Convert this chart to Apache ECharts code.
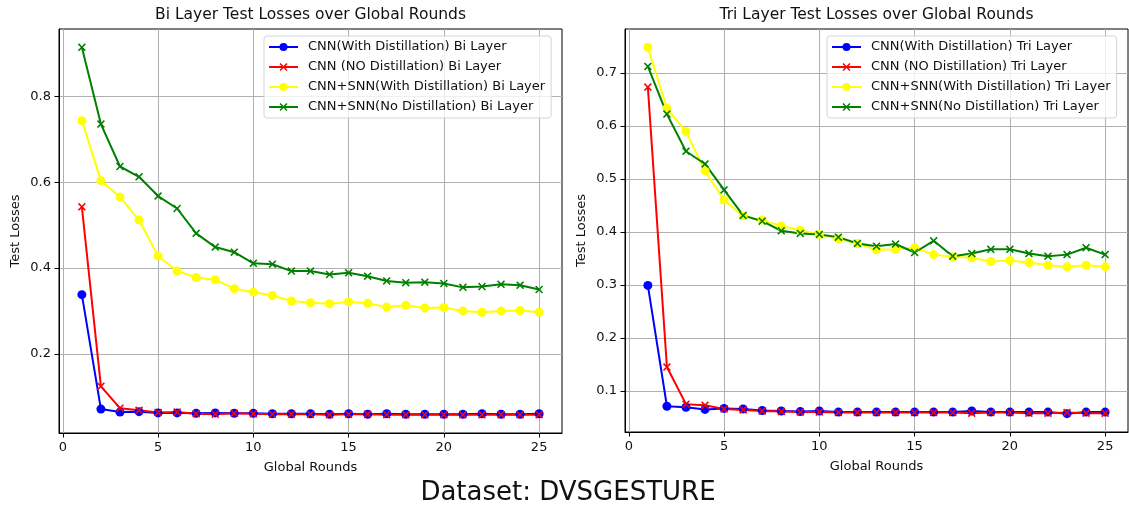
<!DOCTYPE html>
<html>
<head>
<meta charset="utf-8">
<script src="https://cdn.jsdelivr.net/npm/echarts@6/dist/echarts.min.js"></script>
<style>
  html, body { margin: 0; padding: 0; background: #fff; }
  #chart { width: 1129px; height: 509px; }
</style>
</head>
<body>
<div id="chart"></div>
<script>
const FONT = 'DejaVu Sans';

// x values (global rounds)
const rounds = [1, 2, 3, 4, 5, 6, 7, 8, 9, 10, 11, 12, 13, 14, 15, 16, 17, 18, 19, 20, 21, 22, 23, 24, 25];
const xTicks = [0, 5, 10, 15, 20, 25];
const biYTicks = [0.2, 0.4, 0.6, 0.8];
const triYTicks = [0.1, 0.2, 0.3, 0.4, 0.5, 0.6, 0.7];

// Bi layer (left)
const biNames = [
  'CNN(With Distillation) Bi Layer',
  'CNN (NO Distillation) Bi Layer',
  'CNN+SNN(With Distillation) Bi Layer',
  'CNN+SNN(No Distillation) Bi Layer'
];
const biCnnDistill = [0.338, 0.071, 0.064, 0.065, 0.062, 0.062, 0.061, 0.062, 0.061, 0.061, 0.060, 0.060, 0.060, 0.059, 0.060, 0.059, 0.060, 0.059, 0.059, 0.059, 0.059, 0.060, 0.059, 0.059, 0.060];
const biCnnNoDistill = [0.543, 0.124, 0.073, 0.068, 0.063, 0.064, 0.060, 0.059, 0.061, 0.060, 0.059, 0.059, 0.059, 0.058, 0.059, 0.059, 0.058, 0.058, 0.058, 0.058, 0.058, 0.058, 0.058, 0.058, 0.058];
const biSnnDistill = [0.744, 0.604, 0.566, 0.512, 0.428, 0.393, 0.378, 0.373, 0.352, 0.344, 0.336, 0.323, 0.319, 0.317, 0.321, 0.318, 0.309, 0.313, 0.307, 0.308, 0.300, 0.297, 0.300, 0.301, 0.297];
const biSnnNoDistill = [0.915, 0.736, 0.637, 0.613, 0.568, 0.539, 0.481, 0.449, 0.437, 0.411, 0.409, 0.393, 0.393, 0.385, 0.389, 0.381, 0.370, 0.366, 0.367, 0.364, 0.355, 0.357, 0.362, 0.360, 0.350];

// Tri layer (right)
const triNames = [
  'CNN(With Distillation) Tri Layer',
  'CNN (NO Distillation) Tri Layer',
  'CNN+SNN(With Distillation) Tri Layer',
  'CNN+SNN(No Distillation) Tri Layer'
];
const triCnnDistill = [0.299, 0.071, 0.069, 0.065, 0.067, 0.066, 0.063, 0.062, 0.061, 0.062, 0.060, 0.060, 0.060, 0.060, 0.060, 0.060, 0.060, 0.062, 0.060, 0.060, 0.060, 0.060, 0.057, 0.060, 0.060];
const triCnnNoDistill = [0.673, 0.145, 0.075, 0.073, 0.066, 0.064, 0.062, 0.061, 0.060, 0.060, 0.059, 0.059, 0.059, 0.059, 0.059, 0.059, 0.059, 0.058, 0.059, 0.059, 0.058, 0.058, 0.059, 0.058, 0.058];
const triSnnDistill = [0.748, 0.633, 0.589, 0.515, 0.460, 0.430, 0.422, 0.411, 0.403, 0.395, 0.387, 0.378, 0.366, 0.367, 0.370, 0.357, 0.353, 0.351, 0.344, 0.346, 0.342, 0.337, 0.334, 0.337, 0.334];
const triSnnNoDistill = [0.712, 0.622, 0.552, 0.528, 0.479, 0.431, 0.420, 0.402, 0.397, 0.395, 0.390, 0.378, 0.373, 0.377, 0.361, 0.383, 0.354, 0.359, 0.367, 0.367, 0.359, 0.354, 0.357, 0.370, 0.357];

const colors = ['#0000ff', '#ff0000', '#ffff00', '#008000'];
const CROSS = 'path://M0,1.4 L1.4,0 L5,3.6 L8.6,0 L10,1.4 L6.4,5 L10,8.6 L8.6,10 L5,6.4 L1.4,10 L0,8.6 L3.6,5 Z';
const markers = ['circle', CROSS, 'circle', CROSS];

// matplotlib-like 5% margins
const padExt = function (arrs) {
  const all = [].concat(...arrs);
  const lo = Math.min(...all), hi = Math.max(...all);
  const p = (hi - lo) * 0.05;
  return [lo - p, hi + p];
};
const xExt = padExt([rounds]);
const biExt = padExt([biCnnDistill, biCnnNoDistill, biSnnDistill, biSnnNoDistill]);
const triExt = padExt([triCnnDistill, triCnnNoDistill, triSnnDistill, triSnnNoDistill]);

const pairs = vals => rounds.map((r, i) => [r, vals[i]]);

const mkSeries = function (name, vals, k, idx) {
  return {
    name: name,
    type: 'line',
    xAxisIndex: idx,
    yAxisIndex: idx,
    data: pairs(vals),
    symbol: markers[k],
    symbolSize: markers[k] === 'circle' ? 9 : 8,
    showSymbol: true,
    showAllSymbol: true,
    color: colors[k],
    lineStyle: { color: colors[k], width: 2 },
    itemStyle: { color: colors[k] },
    emphasis: { disabled: true },
    animation: false,
  };
};

const xAxisCfg = function (idx) {
  return {
    type: 'value', gridIndex: idx, min: xExt[0], max: xExt[1],
    name: 'Global Rounds', nameLocation: 'middle', nameGap: 28,
    nameTextStyle: { fontFamily: FONT, fontSize: 13, color: '#111' },
    axisLine: { show: true, onZero: false, lineStyle: { color: '#000', width: 1 } },
    axisTick: { show: true, inside: false, length: 4.5, customValues: xTicks, lineStyle: { color: '#000', width: 1 } },
    axisLabel: { customValues: xTicks, margin: 8, fontFamily: FONT, fontSize: 13, color: '#111', formatter: v => String(v) },
    splitLine: { show: true, lineStyle: { color: '#b0b0b0', width: 1 } },
  };
};

const yAxisCfg = function (idx, ext, ticks) {
  return {
    type: 'value', gridIndex: idx, min: ext[0], max: ext[1],
    name: 'Test Losses', nameLocation: 'middle', nameGap: 37, nameRotate: 90,
    nameTextStyle: { fontFamily: FONT, fontSize: 13, color: '#111' },
    axisLine: { show: true, onZero: false, lineStyle: { color: '#000', width: 1 } },
    axisTick: { show: true, inside: false, length: 4.5, customValues: ticks, lineStyle: { color: '#000', width: 1 } },
    axisLabel: { customValues: ticks, margin: 8, fontFamily: FONT, fontSize: 13, color: '#111', formatter: v => v.toFixed(1) },
    splitLine: { show: true, lineStyle: { color: '#b0b0b0', width: 1 } },
  };
};

const legendCfg = function (names, left) {
  return {
    data: names,
    orient: 'vertical',
    left: left, top: 36,
    itemWidth: 29, itemHeight: 10, itemGap: 6,
    padding: [4, 6, 4, 4],
    backgroundColor: 'rgba(255,255,255,0.8)',
    borderColor: '#d5d5d5', borderWidth: 1, borderRadius: 3,
    selectedMode: false,
    textStyle: { fontFamily: FONT, fontSize: 13, color: '#111', lineHeight: 14, padding: [0, 0, 0, 5] },
  };
};

const titleStyle = { fontFamily: FONT, fontSize: 15.5, fontWeight: 'normal', color: '#111' };

const chart = echarts.init(document.getElementById('chart'));
chart.setOption({
  backgroundColor: '#fff',
  animation: false,
  title: [
    { text: 'Bi Layer Test Losses over Global Rounds', left: 310.5, top: 7, padding: 0, textAlign: 'center', textStyle: titleStyle },
    { text: 'Tri Layer Test Losses over Global Rounds', left: 876.5, top: 7, padding: 0, textAlign: 'center', textStyle: titleStyle },
    { text: 'Dataset: DVSGESTURE', left: 568, top: 480, padding: 0, textAlign: 'center',
      textStyle: { fontFamily: FONT, fontSize: 26, fontWeight: 'normal', color: '#111' } },
  ],
  legend: [legendCfg(biNames, 264), legendCfg(triNames, 827)],
  grid: [
    { left: 59, top: 29, width: 503, height: 404, show: true, borderColor: '#000', borderWidth: 1, outerBoundsMode: 'none' },
    { left: 625, top: 29, width: 503, height: 403, show: true, borderColor: '#000', borderWidth: 1, outerBoundsMode: 'none' },
  ],
  xAxis: [xAxisCfg(0), xAxisCfg(1)],
  yAxis: [yAxisCfg(0, biExt, biYTicks), yAxisCfg(1, triExt, triYTicks)],
  series: [
    mkSeries(biNames[0], biCnnDistill, 0, 0),
    mkSeries(biNames[1], biCnnNoDistill, 1, 0),
    mkSeries(biNames[2], biSnnDistill, 2, 0),
    mkSeries(biNames[3], biSnnNoDistill, 3, 0),
    mkSeries(triNames[0], triCnnDistill, 0, 1),
    mkSeries(triNames[1], triCnnNoDistill, 1, 1),
    mkSeries(triNames[2], triSnnDistill, 2, 1),
    mkSeries(triNames[3], triSnnNoDistill, 3, 1),
  ],
});
</script>
</body>
</html>
